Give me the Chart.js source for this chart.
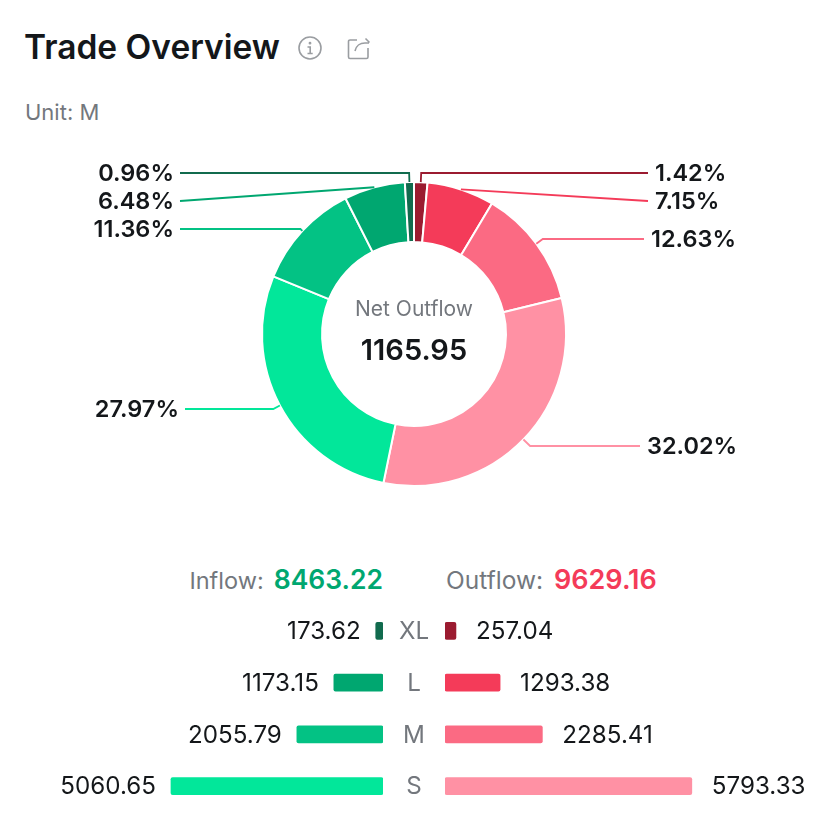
<!DOCTYPE html>
<html>
<head>
<meta charset="utf-8">
<title>Trade Overview</title>
<script src="https://cdn.jsdelivr.net/npm/chart.js@4/dist/chart.umd.min.js"></script>
<style>
    html, body { margin: 0; padding: 0; background: #fff; }
    body { position: relative; width: 828px; height: 820px; overflow: hidden; font-family: Inter, sans-serif; color: #14171a; }
    .abs { position: absolute; white-space: nowrap; line-height: 1; }
    canvas { position: absolute; display: block; }
    #title { left: 24px; top: 31px; font-size: 33.5px; font-weight: 600; }
    #unit { left: 25px; top: 101px; font-size: 22px; color: #73777d; }
    #netLabel { left: 264px; width: 300px; top: 298px; text-align: center; font-size: 21px; color: #73777d; }
    #netValue { left: 264px; width: 300px; top: 335px; text-align: center; font-size: 29px; font-weight: 600; }
    #inflow { right: 445px; top: 566px; font-size: 23.5px; color: #73777d; }
    #outflow { left: 446px; top: 566px; font-size: 24.5px; color: #73777d; }
    #inflow b { color: #00a770; font-size: 26.5px; font-weight: 600; margin-left: 10px; }
    #outflow b { color: #f43b59; font-size: 27px; font-weight: 600; margin-left: 11px; }
    #share, #info { position: absolute; }
</style>
</head>
<body>
<div class="abs" id="title">Trade Overview</div>
<svg id="info" style="left:298px;top:36px" width="24" height="24" viewBox="0 0 24 24" fill="none" stroke="#9a9da1" stroke-width="1.6">
    <circle cx="12" cy="12" r="11"/>
    <path d="M9.5 11h2.700v6.500M9.5 17.500h5.200"/>
    <circle cx="12" cy="7.200" r="0.6" fill="#9a9da1"/>
</svg>
<svg id="share" style="left:347px;top:36px" width="24" height="24" viewBox="0 0 24 24" fill="none" stroke="#9a9da1" stroke-width="1.6">
    <path d="M10 4H3a1.500 1.500 0 0 0-1.500 1.500V21a1.500 1.500 0 0 0 1.500 1.500h16.500A1.500 1.500 0 0 0 21 21V12"/>
    <path d="M8 15c1-5 5-8 10-8h4M18.500 2.500L22.500 6.500"/>
</svg>
<div class="abs" id="unit">Unit: M</div>

<canvas id="donutChart" style="left:0;top:140px"></canvas>
<div class="abs" id="netLabel">Net Outflow</div>
<div class="abs" id="netValue">1165.95</div>

<div class="abs" id="inflow">Inflow:<b>8463.22</b></div>
<div class="abs" id="outflow">Outflow:<b>9629.16</b></div>

<canvas id="inflowChart" style="left:0;top:605px"></canvas>
<canvas id="outflowChart" style="left:383px;top:605px"></canvas>

<script>
'use strict';

var sizes = ['XL', 'L', 'M', 'S'];
var inflow = [173.62, 1173.15, 2055.79, 5060.65];
var outflow = [257.04, 1293.38, 2285.41, 5793.33];

var inflowColors = ['#116b4e', '#00a770', '#03c284', '#02e79a'];
var outflowColors = ['#9b1b30', '#f43b59', '#fb6a83', '#ff91a4'];

// clockwise from 12 o'clock: outflow XL..S, then inflow S..XL
var donutValues = outflow.concat(inflow.slice().reverse());
var donutColors = outflowColors.concat(inflowColors.slice().reverse());

// where each leader line stops, same order as the slices
var leaderEnds = [
    { x: 648, y: 33, side: 'right', elbow: true },
    { x: 648, y: 61, side: 'right', elbow: false },
    { x: 644, y: 99, side: 'right', elbow: true },
    { x: 640, y: 306, side: 'right', elbow: true },
    { x: 185, y: 269, side: 'left', elbow: true },
    { x: 180, y: 89, side: 'left', elbow: true },
    { x: 180, y: 61, side: 'left', elbow: false },
    { x: 180, y: 33, side: 'left', elbow: true }
];

var textDark = '#14171a';
var textGrey = '#73777d';
var fontName = 'Inter, sans-serif';

var leaderPlugin = {
    id: 'leaderLabels',
    afterDatasetsDraw: function (chart) {
        var ctx = chart.ctx;
        var arcs = chart.getDatasetMeta(0).data;
        var total = donutValues.reduce(function (a, b) { return a + b; }, 0);

        ctx.save();
        arcs.forEach(function (arc, i) {
            var p = arc.getProps(['x', 'y', 'startAngle', 'endAngle', 'outerRadius'], true);
            var mid = (p.startAngle + p.endAngle) / 2;
            var cos = Math.cos(mid), sin = Math.sin(mid);
            var mx = p.x + p.outerRadius * cos;
            var my = p.y + p.outerRadius * sin;
            var end = leaderEnds[i];

            ctx.strokeStyle = donutColors[i];
            ctx.lineWidth = 1.8;
            ctx.beginPath();
            ctx.moveTo(mx, my);
            if (end.elbow) {
                ctx.lineTo(mx + (end.y - my) / sin * cos, end.y);
            }
            ctx.lineTo(end.x, end.y);
            ctx.stroke();

            ctx.fillStyle = textDark;
            ctx.font = '600 23.5px ' + fontName;
            ctx.textBaseline = 'middle';
            ctx.textAlign = end.side === 'right' ? 'left' : 'right';
            var tx = end.side === 'right' ? end.x + 7 : end.x - 6;
            ctx.fillText((donutValues[i] / total * 100).toFixed(2) + '%', tx, end.y + 1);
        });
        ctx.restore();
    }
};

var donutCanvas = document.getElementById('donutChart');
donutCanvas.width = 828;
donutCanvas.height = 388;
new Chart(donutCanvas, {
    type: 'doughnut',
    plugins: [leaderPlugin],
    data: {
        labels: sizes.concat(sizes.slice().reverse()),
        datasets: [{
            data: donutValues,
            backgroundColor: donutColors,
            borderColor: '#fff',
            borderWidth: 2
        }]
    },
    options: {
        responsive: false,
        animation: false,
        radius: 152,
        cutout: '60.5%',
        plugins: { legend: { display: false }, tooltip: { enabled: false } }
    }
});

var barValuePlugin = {
    id: 'barValues',
    afterDatasetsDraw: function (chart) {
        var ctx = chart.ctx;
        var opts = chart.options.plugins.barValues;
        var values = chart.data.datasets[0].data;
        ctx.save();
        ctx.font = '400 24.2px ' + fontName;
        ctx.textBaseline = 'middle';
        chart.getDatasetMeta(0).data.forEach(function (bar, i) {
            ctx.fillStyle = textDark;
            ctx.textAlign = opts.align;
            ctx.fillText(values[i].toFixed(2), bar.x + opts.gap, bar.y + 1);
            // size names sit in the gap between the two bar charts
            if (opts.showNames) {
                ctx.fillStyle = textGrey;
                ctx.textAlign = 'center';
                ctx.fillText(chart.data.labels[i], chart.chartArea.left - 31, bar.y + 1);
            }
        });
        ctx.restore();
    }
};

function barChart(canvasId, width, values, colors, axisMax, isLeft) {
    var canvas = document.getElementById(canvasId);
    canvas.width = width;
    canvas.height = 207;
    return new Chart(canvas, {
        type: 'bar',
        plugins: [barValuePlugin],
        data: {
            labels: sizes,
            datasets: [{
                data: values,
                backgroundColor: colors,
                barThickness: 17,
                borderRadius: 2,
                borderSkipped: false
            }]
        },
        options: {
            indexAxis: 'y',
            responsive: false,
            animation: false,
            layout: { padding: { left: isLeft ? 0 : 62 } },
            scales: {
                x: { display: false, min: 0, max: axisMax, reverse: isLeft },
                y: { display: false }
            },
            plugins: {
                legend: { display: false },
                tooltip: { enabled: false },
                barValues: { align: isLeft ? 'right' : 'left', gap: isLeft ? -15 : 20, showNames: !isLeft }
            }
        }
    });
}

barChart('inflowChart', 383, inflow, inflowColors, 9141, true);
barChart('outflowChart', 445, outflow, outflowColors, 8990, false);
</script>
</body>
</html>
